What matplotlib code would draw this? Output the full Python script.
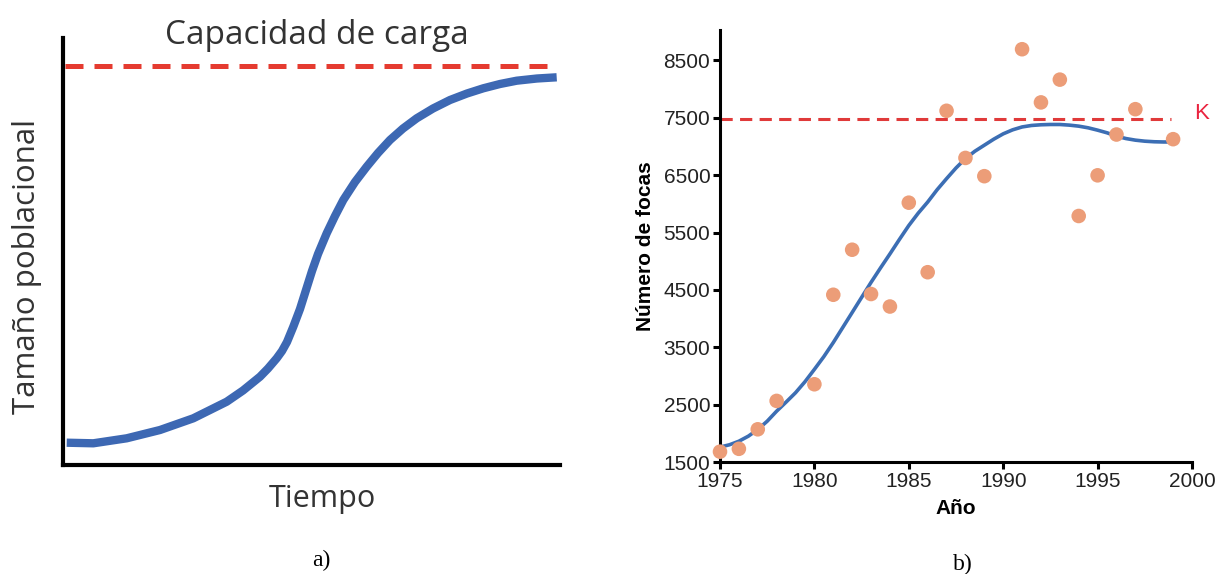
import matplotlib
matplotlib.use('Agg')
import matplotlib.pyplot as plt

# panel a) - generic logistic curve (arbitrary units)
tiempo = [3.7, 30.3, 63.7, 97, 130.3, 163.7, 180, 197, 205, 213.7, 219, 224, 230.3,
          237, 243, 249, 255, 263.7, 272, 280.3, 292, 303.7, 315, 327, 340, 353.7,
          370, 387, 404, 420.3, 437, 453.7, 474, 493.7]
tamano = [22.3, 21.7, 26.7, 35, 46.7, 63.3, 74.5, 88.3, 96.5, 106.7, 114, 123, 138.3,
          156, 175, 194, 211, 231.7, 249, 265, 283, 298.3, 312, 325, 336.5, 346.7,
          356.5, 365, 371.5, 376.7, 381, 384.3, 386.5, 387.7]
capacidad = 399.3

# panel b) - seal counts
anios = [1975, 1976, 1977, 1978, 1980, 1981, 1982, 1983, 1984, 1985, 1986, 1987,
         1988, 1989, 1991, 1992, 1993, 1994, 1995, 1996, 1997, 1999]
focas = [1680, 1730, 2070, 2565, 2855, 4415, 5200, 4428, 4210, 6020, 4808, 7622,
         6800, 6482, 8695, 7768, 8165, 5788, 6497, 7208, 7650, 7127]
anios_ajuste = [1975, 1975.5, 1976, 1976.5, 1977, 1977.5, 1978, 1978.5, 1979, 1979.5,
                1980, 1980.5, 1981, 1981.5, 1982, 1982.5, 1983, 1983.5, 1984, 1984.5,
                1985, 1985.5, 1986, 1986.5, 1987, 1987.5, 1988, 1988.5, 1989, 1989.5,
                1990, 1990.5, 1991, 1991.5, 1992, 1992.5, 1993, 1993.5, 1994, 1994.5,
                1995, 1995.5, 1996, 1996.5, 1997, 1997.5, 1998, 1998.5, 1999]
focas_ajuste = [1760, 1800, 1862, 1950, 2066, 2211, 2386, 2544, 2707, 2899,
                3115, 3337, 3582, 3844, 4106, 4369, 4631, 4882, 5127, 5378,
                5622, 5838, 6031, 6246, 6439, 6625, 6789, 6917, 7022, 7127,
                7220, 7290, 7340, 7366, 7378, 7383, 7383, 7372, 7354, 7325,
                7284, 7238, 7180, 7138, 7110, 7092, 7082, 7078, 7078]
K = 7480
yticks = [1500, 2500, 3500, 4500, 5500, 6500, 7500, 8500]
xticks = [1975, 1980, 1985, 1990, 1995, 2000]

W, H = 1221, 574
fig = plt.figure(figsize=(W / 100, H / 100), dpi=100)

# ---- a)
ax1 = fig.add_axes([63 / W, 1 - 465 / H, 497 / W, 427 / H])
ax1.plot(tiempo, tamano, color='#3D68B3', lw=6, solid_capstyle='butt', solid_joinstyle='round')
ax1.plot([2, 495], [capacidad, capacidad], color='#E53B30', lw=3.6, dashes=(3.6, 2.2))
ax1.set_xlim(0, 497)
ax1.set_ylim(0, 427)
for s in ['top', 'right']:
    ax1.spines[s].set_visible(False)
for s in ['left', 'bottom']:
    ax1.spines[s].set_linewidth(3)
ax1.set_xticks([])
ax1.set_yticks([])

txt = dict(family='Open Sans', color='#333333')
fig.text(317 / W, 1 - 44 / H, 'Capacidad de carga', fontsize=24, ha='center', va='baseline', **txt)
fig.text(322 / W, 1 - 507 / H, 'Tiempo', fontsize=22, ha='center', va='baseline', **txt)
fig.text(27 / W, 1 - 266 / H, 'Tamaño poblacional', fontsize=22.5, rotation=90,
         ha='center', va='center', **txt)

# ---- b)
ax2 = fig.add_axes([720 / W, 1 - 462 / H, 472 / W, 432 / H])
ax2.plot(anios_ajuste, focas_ajuste, color='#3C6EB4', lw=2.6, zorder=2, solid_joinstyle='round')
ax2.plot([1975, 1998.9], [K, K], color='#E03A3A', lw=2.2, dashes=(4, 2.4), zorder=1)
ax2.scatter(anios, focas, s=110, color='#EC9D78', edgecolors='none', zorder=3, clip_on=False)
ax2.text(2000.1, 7570, 'K', color='#EA2440', fontsize=16, va='center', ha='left',
         family='Liberation Sans')
ax2.set_xlim(1975, 2000)
ax2.set_ylim(1500, 9030)
ax2.set_xticks(xticks)
ax2.set_yticks(yticks)
for s in ['top', 'right']:
    ax2.spines[s].set_visible(False)
for s in ['left', 'bottom']:
    ax2.spines[s].set_linewidth(2.2)
ax2.tick_params(length=5, width=2.2, labelsize=15, labelcolor='#222222', pad=2)
for lab in ax2.get_xticklabels() + ax2.get_yticklabels():
    lab.set_family('Liberation Sans')
ax2.set_xlabel('Año', fontsize=15, fontweight='bold', family='Liberation Sans', labelpad=6)
ax2.set_ylabel('Número de focas', fontsize=15, fontweight='bold', family='Liberation Sans', labelpad=6)

fig.text(321 / W, 1 - 566 / H, 'a)', fontsize=17, family='Liberation Serif', ha='center', va='baseline')
fig.text(963 / W, 1 - 570 / H, 'b)', fontsize=17, family='Liberation Serif', ha='center', va='baseline')

fig.savefig('out.png', dpi=100)
